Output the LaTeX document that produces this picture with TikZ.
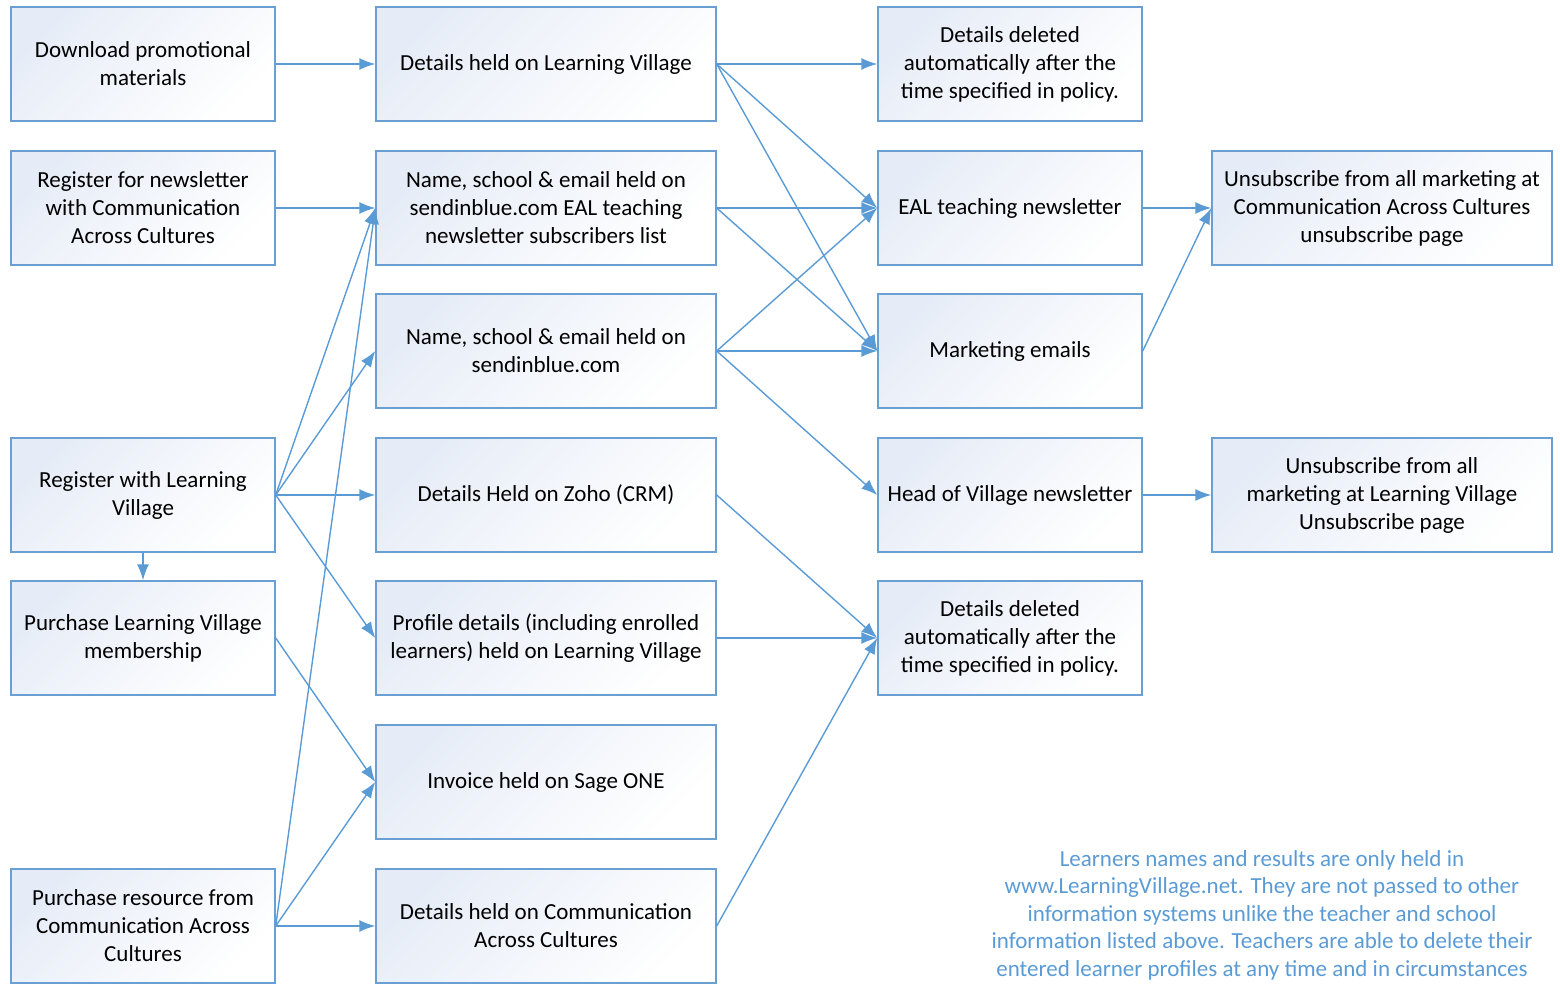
\documentclass[tikz,border=0pt]{standalone}
\usepackage{fontspec}
\setmainfont{Carlito}
\usetikzlibrary{arrows.meta}
\definecolor{lineaLV}{HTML}{5B9BD5}
\definecolor{bordeLV}{HTML}{6A9FD4}
\definecolor{fondoLV}{HTML}{E6ECF7}

\tikzset{
  box/.style={draw=bordeLV,line width=.7pt,top color=fondoLV,bottom color=white,
    shading angle=45,minimum width=132pt,minimum height=57pt,align=center,
    inner sep=2pt,font=\fontsize{11.5}{14}\selectfont},
  wbox/.style={box,minimum width=170pt},
  link/.style={lineaLV,line width=.7pt,-{Latex[length=8pt,width=6pt]}}
}

\begin{document}
\begin{tikzpicture}[x=.5pt,y=-.5pt]
  \useasboundingbox (0,0) rectangle (1560,990);
  % first column
  \node[box] (download) at (143,64) {Download promotional\\materials};
  \node[box] (regnews) at (143,208) {Register for newsletter\\with Communication\\Across Cultures};
  \node[box] (reglv) at (143,495) {Register with Learning\\Village};
  \node[box] (buylv) at (143,638) {Purchase Learning Village\\membership};
  \node[box] (buyres) at (143,926) {Purchase resource from\\Communication Across\\Cultures};
  % second column
  \node[wbox] (heldlv) at (546,64) {Details held on Learning Village};
  \node[wbox] (sibeal) at (546,208) {Name, school \& email held on\\sendinblue.com EAL teaching\\newsletter subscribers list};
  \node[wbox] (sib) at (546,351) {Name, school \& email held on\\sendinblue.com};
  \node[wbox] (zoho) at (546,495) {Details Held on Zoho (CRM)};
  \node[wbox] (profile) at (546,638) {Profile details (including enrolled\\learners) held on Learning Village};
  \node[wbox] (sage) at (546,782) {Invoice held on Sage ONE};
  \node[wbox] (heldcac) at (546,926) {Details held on Communication\\Across Cultures};
  % third column
  \node[box] (delone) at (1010,64) {Details deleted\\automatically after the\\time specified in policy.};
  \node[box] (eal) at (1010,208) {EAL teaching newsletter};
  \node[box] (mkt) at (1010,351) {Marketing emails};
  \node[box] (hov) at (1010,495) {Head of Village newsletter};
  \node[box] (deltwo) at (1010,638) {Details deleted\\automatically after the\\time specified in policy.};
  % fourth column
  \node[wbox] (unsubcac) at (1382,208) {Unsubscribe from all marketing at\\Communication Across Cultures\\unsubscribe page};
  \node[wbox] (unsublv) at (1382,495) {Unsubscribe from all\\marketing at Learning Village\\Unsubscribe page};
  % note
  \node[anchor=north,align=center,text=lineaLV,font=\fontsize{11.5}{13.8}\selectfont]
    (note) at (1262,843) {Learners names and results are only held in\\
    www.LearningVillage.net. They are not passed to other\\
    information systems unlike the teacher and school\\
    information listed above. Teachers are able to delete their\\
    entered learner profiles at any time and in circumstances};

  % connectors
  \draw[link] (download.east) -- (heldlv.west);
  \draw[link] (regnews.east) -- (sibeal.west);
  \draw[link] (reglv.south) -- (buylv.north);
  \foreach \t in {sibeal,sib,zoho,profile}
    \draw[link] (reglv.east) -- (\t.west);
  \draw[link] (buylv.east) -- (sage.west);
  \foreach \t in {sibeal,sage,heldcac}
    \draw[link] (buyres.east) -- (\t.west);
  \foreach \t in {delone,eal,mkt}
    \draw[link] (heldlv.east) -- (\t.west);
  \foreach \t in {eal,mkt}
    \draw[link] (sibeal.east) -- (\t.west);
  \foreach \t in {eal,mkt,hov}
    \draw[link] (sib.east) -- (\t.west);
  \foreach \s in {zoho,profile,heldcac}
    \draw[link] (\s.east) -- (deltwo.west);
  \draw[link] (eal.east) -- (unsubcac.west);
  \draw[link] (mkt.east) -- (unsubcac.west);
  \draw[link] (hov.east) -- (unsublv.west);
\end{tikzpicture}
\end{document}
